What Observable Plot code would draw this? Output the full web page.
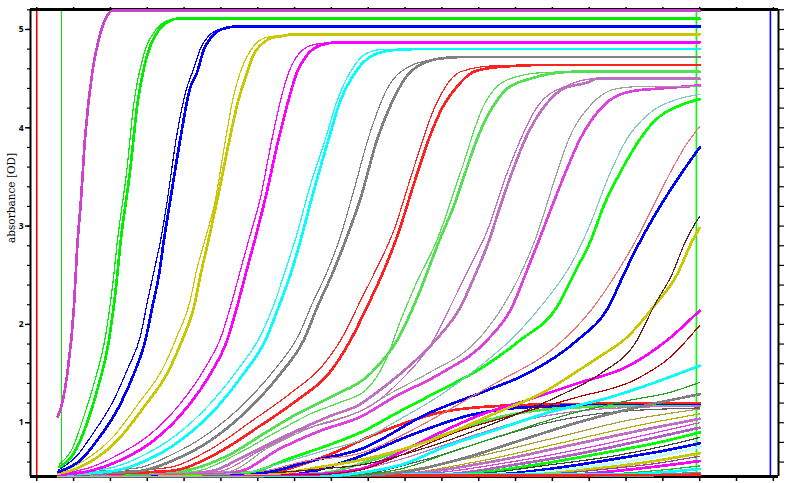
<!DOCTYPE html>
<html><head><meta charset="utf-8">
<script src="https://cdn.jsdelivr.net/npm/d3@7"></script>
<script src="https://cdn.jsdelivr.net/npm/@observablehq/plot@0.6"></script>
<style>
html,body{margin:0;padding:0;background:#fff;}
#chart svg{display:block;}
#chart svg g[aria-label="line"] path{shape-rendering:crispEdges;}
</style>
</head><body><div id="chart"></div>
<script>
// ---- scales / ticks ----
const xDomain = [-0.17, 20.14];
const yDomain = [0.453, 5.203];
const xTicks = [0,1,2,3,4,5,6,7,8,9,10,11,12,13,14,15,16,17,18,19,20];
const yMinorTicks = [0.6,0.8,1.0,1.2,1.4,1.6,1.8,2.0,2.2,2.4,2.6,2.8,3.0,3.2,3.4,3.6,3.8,4.0,4.2,4.4,4.6,4.8,5.0,5.2];
const yMajorTicks = [1,2,3,4,5];
const yTitle = "absorbance [OD]";

// vertical marker lines
const markerX = [0, 0.67, 17.91, 19.92];
const markerColor = ["#ff0000", "#00dd00", "#00ff00", "#0000ff"];

// ---- upper family: full two-phase growth curves (pairs of replicates) ----
const upperCurves = [
  [[0.57,1.06],[0.71,1.23],[0.83,1.50],[1.01,2.18],[1.10,2.80],[1.19,3.21],[1.31,3.89],[1.51,4.57],[1.69,4.91],[1.87,5.11],[2.05,5.19],[18,5.19]],
  [[0.62,0.58],[0.97,0.74],[1.24,1.02],[1.54,1.38],[1.87,1.89],[2.06,2.40],[2.19,2.85],[2.44,3.55],[2.63,4.23],[2.90,4.74],[3.22,4.99],[3.63,5.10],[3.81,5.11],[18,5.11]],
  [[0.62,0.55],[1.01,0.69],[1.32,0.95],[1.64,1.33],[1.96,1.84],[2.14,2.34],[2.28,2.85],[2.53,3.55],[2.73,4.23],[3.0,4.74],[3.27,4.97],[3.63,5.09],[3.81,5.11],[18,5.11]],
  [[0.59,0.52],[1.08,0.66],[1.49,0.87],[2.06,1.21],[2.47,1.55],[2.82,1.89],[3.01,2.24],[3.20,2.57],[3.36,2.85],[3.52,3.20],[3.80,3.92],[4.07,4.40],[4.26,4.60],[4.45,4.81],[4.66,4.93],[4.94,5.00],[5.44,5.03],[18,5.03]],
  [[0.59,0.50],[1.19,0.62],[1.64,0.82],[2.23,1.16],[2.64,1.50],[2.95,1.84],[3.14,2.18],[3.32,2.51],[3.45,2.85],[3.62,3.25],[3.90,3.89],[4.16,4.40],[4.36,4.57],[4.54,4.80],[4.72,4.91],[4.94,4.99],[5.44,5.03],[18,5.03]],
  [[0.59,0.49],[1.13,0.58],[2.06,0.85],[2.79,1.21],[3.42,1.55],[3.82,1.89],[4.15,2.22],[4.34,2.55],[4.56,2.85],[4.84,3.25],[5.13,3.89],[5.32,4.28],[5.53,4.57],[5.81,4.79],[6.16,4.91],[6.62,4.94],[6.97,4.95],[18,4.95]],
  [[0.59,0.48],[1.19,0.55],[2.19,0.82],[2.91,1.16],[3.54,1.50],[3.95,1.84],[4.27,2.18],[4.45,2.51],[4.66,2.85],[4.92,3.30],[5.24,3.89],[5.44,4.23],[5.72,4.57],[5.88,4.74],[6.08,4.84],[6.35,4.91],[6.62,4.93],[6.97,4.95],[18,4.95]],
  [[0.59,0.48],[1.41,0.54],[2.14,0.66],[3.04,0.87],[3.93,1.21],[4.56,1.55],[5.02,1.89],[5.29,2.22],[5.53,2.55],[5.75,2.85],[6.08,3.30],[6.39,3.89],[6.62,4.28],[6.85,4.57],[7.16,4.77],[7.57,4.85],[8.20,4.87],[18,4.87]],
  [[0.59,0.47],[1.46,0.51],[2.28,0.62],[3.18,0.82],[4.09,1.16],[4.72,1.50],[5.17,1.84],[5.44,2.18],[5.67,2.51],[5.90,2.83],[6.20,3.27],[6.57,3.89],[6.80,4.23],[7.07,4.57],[7.34,4.74],[7.71,4.84],[8.20,4.87],[18,4.87]],
  [[0.59,0.49],[2.0,0.54],[2.85,0.66],[3.77,0.87],[4.75,1.21],[5.48,1.55],[6.08,1.89],[6.46,2.22],[6.75,2.55],[7.05,2.90],[7.40,3.38],[7.84,3.89],[8.16,4.28],[8.52,4.57],[8.97,4.76],[9.47,4.80],[10.23,4.80],[18,4.80]],
  [[0.59,0.47],[2.09,0.51],[3.0,0.62],[3.90,0.82],[4.90,1.16],[5.62,1.50],[6.21,1.84],[6.57,2.18],[6.89,2.51],[7.16,2.85],[7.50,3.33],[7.93,3.89],[8.20,4.23],[8.66,4.57],[9.14,4.74],[9.69,4.79],[10.23,4.80],[18,4.80]],
  [[0.59,0.49],[2.74,0.54],[3.58,0.66],[4.58,0.87],[5.67,1.21],[6.48,1.55],[7.11,1.89],[7.49,2.22],[7.90,2.55],[8.25,2.90],[8.60,3.35],[9.00,3.89],[9.52,4.40],[10.15,4.63],[10.87,4.70],[11.51,4.72],[18,4.72]],
  [[0.59,0.47],[2.82,0.51],[3.72,0.62],[4.72,0.82],[5.81,1.16],[6.62,1.50],[7.25,1.84],[7.62,2.18],[8.02,2.51],[8.38,2.85],[8.79,3.28],[9.25,3.89],[9.61,4.23],[10.15,4.57],[10.87,4.70],[11.51,4.72],[18,4.72]],
  [[0.59,0.48],[3.50,0.54],[4.72,0.73],[5.81,1.01],[6.89,1.30],[7.76,1.58],[8.36,1.91],[8.79,2.24],[9.23,2.57],[9.69,2.95],[10.20,3.55],[10.83,4.23],[11.51,4.57],[12.40,4.63],[13.95,4.64],[18,4.64]],
  [[0.59,0.47],[3.63,0.51],[4.90,0.69],[5.99,0.95],[7.07,1.23],[7.93,1.50],[8.52,1.84],[8.97,2.18],[9.38,2.51],[9.79,2.90],[10.30,3.50],[10.65,3.89],[11.05,4.23],[11.37,4.40],[11.87,4.57],[12.59,4.62],[13.95,4.64],[18,4.64]],
  [[0.59,0.48],[4.17,0.50],[5.53,0.70],[6.48,0.90],[7.43,1.09],[8.25,1.21],[8.93,1.33],[9.47,1.63],[9.88,2.04],[10.28,2.40],[10.88,2.87],[11.51,3.55],[12.14,4.23],[12.73,4.48],[13.68,4.56],[14.58,4.57],[18,4.57]],
  [[0.59,0.47],[3.90,0.51],[5.26,0.68],[6.17,0.89],[7.07,1.09],[7.98,1.26],[9.06,1.50],[9.79,1.84],[10.34,2.28],[10.95,2.87],[11.33,3.21],[11.64,3.55],[11.96,3.89],[12.41,4.23],[12.78,4.40],[13.41,4.50],[13.95,4.55],[14.58,4.57],[18,4.57]],
  [[0.59,0.48],[4.86,0.50],[6.08,0.72],[7.16,0.92],[8.25,1.04],[9.06,1.17],[9.88,1.43],[10.69,1.79],[11.37,2.29],[11.78,2.60],[12.23,2.95],[12.78,3.55],[13.62,4.23],[14.40,4.43],[15.22,4.50],[18,4.50]],
  [[0.59,0.47],[4.58,0.50],[5.80,0.69],[6.89,0.89],[7.98,1.07],[8.79,1.19],[9.06,1.26],[9.88,1.50],[10.83,1.84],[11.51,2.18],[11.91,2.51],[12.28,2.85],[12.59,3.21],[12.91,3.55],[13.27,3.89],[13.81,4.23],[14.31,4.40],[14.95,4.46],[15.22,4.50],[18,4.50]],
  [[0.59,0.48],[5.13,0.50],[6.35,0.76],[7.57,0.97],[8.79,1.12],[9.61,1.30],[10.61,1.50],[11.97,1.84],[12.65,2.18],[13.13,2.51],[13.54,2.87],[14.13,3.55],[14.45,3.89],[15.04,4.23],[15.76,4.40],[16.48,4.42],[18,4.42]],
  [[0.59,0.47],[5.40,0.50],[6.62,0.74],[7.71,0.92],[8.79,1.06],[9.70,1.26],[10.96,1.50],[12.23,1.84],[12.91,2.18],[13.27,2.51],[13.63,2.85],[14.0,3.21],[14.36,3.55],[14.76,3.89],[15.40,4.23],[16.12,4.37],[16.94,4.40],[18,4.43]],
  [[0.59,0.48],[5.53,0.49],[6.75,0.60],[7.84,0.72],[8.79,0.82],[9.88,1.04],[10.96,1.28],[12.05,1.58],[13.0,1.89],[13.81,2.24],[14.49,2.60],[14.95,2.95],[15.58,3.55],[16.03,3.89],[16.58,4.13],[17.39,4.29],[18,4.34]],
  [[0.59,0.47],[5.67,0.49],[6.89,0.64],[7.98,0.78],[8.79,0.90],[9.88,1.12],[10.96,1.33],[12.05,1.55],[13.13,1.84],[14.13,2.18],[14.58,2.51],[15.04,2.85],[15.40,3.21],[15.85,3.55],[16.39,3.89],[16.75,4.06],[17.48,4.23],[18,4.29]],
  [[0.59,0.48],[5.94,0.50],[7.30,0.61],[8.79,0.69],[10.42,0.97],[11.51,1.20],[12.59,1.43],[13.95,1.73],[15.04,2.14],[15.71,2.50],[16.26,2.85],[16.75,3.21],[17.21,3.55],[17.62,3.82],[18,4.01]],
  [[0.59,0.47],[6.08,0.49],[7.43,0.61],[8.79,0.73],[10.60,1.09],[12.23,1.33],[13.32,1.50],[14.68,1.84],[15.53,2.18],[15.94,2.51],[16.39,2.85],[16.94,3.21],[17.53,3.55],[18,3.80]],
  [[0.59,0.48],[6.21,0.49],[7.71,0.53],[8.79,0.57],[10.69,0.76],[12.59,1.02],[14.22,1.28],[15.31,1.50],[16.30,1.84],[16.75,2.18],[17.25,2.51],[17.62,2.85],[18,3.10]],
  [[0.59,0.47],[6.35,0.48],[7.71,0.55],[8.79,0.62],[10.69,0.82],[12.41,1.09],[13.86,1.33],[14.58,1.50],[15.31,1.68],[15.94,1.84],[16.75,2.18],[17.39,2.51],[17.80,2.85],[18,2.98]],
  [[0.59,0.47],[7.43,0.47],[8.79,0.52],[9.69,0.64],[11.51,0.92],[12.86,1.07],[14.68,1.26],[16.21,1.43],[17.21,1.67],[18,1.99]],
  [[0.59,0.47],[7.16,0.47],[8.79,0.53],[9.88,0.70],[10.96,0.90],[12.05,1.08],[13.32,1.23],[14.68,1.40],[16.03,1.57],[17.12,1.84],[18,2.14]],
  [[0.59,0.46],[7.98,0.46],[8.79,0.49],[9.97,0.58],[11.05,0.75],[12.41,0.92],[13.77,1.09],[15.58,1.26],[16.94,1.43],[18,1.58]],
  [[0.59,0.47],[8.25,0.46],[9.88,0.53],[11.24,0.70],[12.86,0.90],[14.49,1.09],[16.12,1.23],[17.21,1.31],[18,1.41]],
  [[0.59,0.46],[8.52,0.46],[10.15,0.51],[11.51,0.63],[13.13,0.82],[14.76,1.01],[16.12,1.14],[17.21,1.23],[18,1.29]]
];
const upperColors = ["#d040d0","#00ee00","#00ee00","#0000ff","#0000ff","#c8c800","#c8c800","#ff00ff","#ff00ff",
  "#00ffff","#00ffff","#808080","#808080","#ff2020","#ff2020","#50e050","#50e050","#c070c0","#c070c0",
  "#a0a0a0","#e040e0","#80c8c8","#00ff00","#f07070","#0000ff","#602020","#c8c800","#b00000","#ff00ff",
  "#00ffff","#20a020","#808080"];
const upperThick = [1,0,1,0,1,0,1,0,1,0,1,0,1,0,1,0,1,0,1,0,1,0,1,0,1,0,1,0,1,1,0,1];

// ---- curves resting on the intermediate plateau (~1.2 OD) ----
const plateauCurves = [
  [[0.59,0.47],[6.0,0.48],[7.7,0.64],[9.3,0.90],[10.9,1.10],[12.5,1.17],[14.5,1.19],[18,1.20]],
  [[0.59,0.46],[6.8,0.47],[8.5,0.62],[10.2,0.88],[11.8,1.08],[13.4,1.16],[15.5,1.18],[18,1.18]],
  [[0.59,0.47],[7.5,0.48],[9.2,0.63],[10.9,0.86],[12.6,1.06],[14.3,1.15],[16.0,1.17],[18,1.17]],
  [[0.59,0.48],[8.0,0.48],[9.8,0.62],[11.6,0.84],[13.3,1.03],[15.0,1.13],[16.6,1.16],[18,1.17]],
  [[0.59,0.47],[8.5,0.47],[10.5,0.62],[12.3,0.83],[14.0,1.01],[15.7,1.11],[18,1.15]]
];
const plateauColors = ["#ff2020","#0000ff","#50e050","#c070c0","#606060"];
const plateauThick = [1,1,1,0,0];

// ---- late curves still in the first rise at the end of the run ----
const lateCurves = [
  [[0.59,0.47],[9.0,0.48],[11.5,0.62],[14.0,0.84],[16.0,1.02],[18,1.14]],
  [[0.59,0.46],[9.4,0.47],[11.9,0.60],[14.3,0.80],[16.3,0.97],[18,1.09]],
  [[0.59,0.47],[9.8,0.48],[12.3,0.60],[14.6,0.78],[16.5,0.93],[18,1.04]],
  [[0.59,0.48],[10.3,0.48],[12.7,0.59],[15.0,0.75],[16.7,0.89],[18,1.00]],
  [[0.59,0.47],[10.8,0.47],[13.1,0.58],[15.2,0.72],[16.8,0.85],[18,0.95]],
  [[0.59,0.46],[11.2,0.47],[13.5,0.57],[15.5,0.70],[16.9,0.80],[18,0.90]],
  [[0.59,0.48],[11.7,0.48],[13.9,0.57],[15.8,0.67],[17.0,0.76],[18,0.85]],
  [[0.59,0.47],[12.2,0.47],[14.3,0.55],[16.0,0.65],[17.1,0.72],[18,0.79]],
  [[0.59,0.46],[12.7,0.47],[14.7,0.54],[16.3,0.62],[18,0.75]],
  [[0.59,0.47],[13.2,0.47],[15.1,0.53],[16.6,0.60],[18,0.69]],
  [[0.59,0.48],[13.7,0.48],[15.5,0.53],[16.9,0.59],[18,0.66]],
  [[0.59,0.47],[14.3,0.47],[16.0,0.52],[18,0.61]],
  [[0.59,0.46],[14.9,0.47],[16.4,0.50],[18,0.56]],
  [[0.59,0.47],[15.5,0.47],[16.8,0.49],[18,0.53]],
  [[0.59,0.46],[16.0,0.46],[18,0.49]],
  [[0.59,0.45],[18,0.47]]
];
const lateColors = ["#a8a040","#b0b000","#c070c0","#e040e0","#b060c0","#00ff00","#404040","#0000ff",
  "#c0ffff","#c8c800","#a040a0","#ff00ff","#20c020","#00ffff","#808080","#ff2020"];
const lateThick = [0,0,1,0,1,1,0,1,1,1,0,1,0,1,1,1];

function curveMarks(curves, colors, thick) {
  return curves.map((pts, i) => Plot.line(pts.map(p => ({x: p[0], y: p[1]})), {
    x: "x", y: "y", stroke: colors[i], strokeWidth: thick[i] ? 2.7 : 1.2, curve: "monotone-x"
  }));
}

const marks = [
  ...markerX.map((v, i) => Plot.ruleX([v], {stroke: markerColor[i], strokeWidth: i === 1 ? 1 : 1.6})),
  Plot.ruleX([xDomain[0]], {stroke: "#000", strokeWidth: 2}),
  Plot.ruleX([xDomain[1]], {stroke: "#000", strokeWidth: 2}),
  Plot.ruleY([yDomain[1]], {stroke: "#000", strokeWidth: 3}),
  Plot.ruleY([yDomain[0]], {stroke: "#000", strokeWidth: 3}),
  Plot.axisX(xTicks, {anchor: "top", label: null, tickSize: 3, strokeWidth: 1.5, tickFormat: () => ""}),
  Plot.axisX(xTicks, {anchor: "bottom", label: null, tickSize: 5, strokeWidth: 1.5, tickFormat: () => ""}),
  Plot.axisY(yMinorTicks, {anchor: "left", label: null, tickSize: 3, strokeWidth: 1.2, tickFormat: () => ""}),
  Plot.axisY(yMajorTicks, {anchor: "left", label: null, tickSize: 5, tickPadding: 2, strokeWidth: 1.4,
    tickFormat: d => String(d), fontSize: 8.5, fontWeight: "bold", fill: "#000"}),
  Plot.axisY(yMinorTicks, {anchor: "right", label: null, tickSize: 5, strokeWidth: 1.2, tickFormat: () => ""}),
  Plot.text([yTitle], {frameAnchor: "left", rotate: -90, dx: -19, fontSize: 10.5,
    fontFamily: "'DejaVu Serif', serif", fill: "#000"}),
  ...curveMarks(lateCurves, lateColors, lateThick),
  ...curveMarks(plateauCurves, plateauColors, plateauThick),
  ...curveMarks(upperCurves.slice().reverse(), upperColors.slice().reverse(), upperThick.slice().reverse())
];

const chart = Plot.plot({
  width: 786, height: 483,
  marginLeft: 30, marginRight: 8, marginTop: 9, marginBottom: 7,
  x: {domain: xDomain},
  y: {domain: yDomain},
  style: {background: "#fff", color: "#000"},
  marks
});
document.getElementById("chart").appendChild(chart);
</script>
</body></html>
